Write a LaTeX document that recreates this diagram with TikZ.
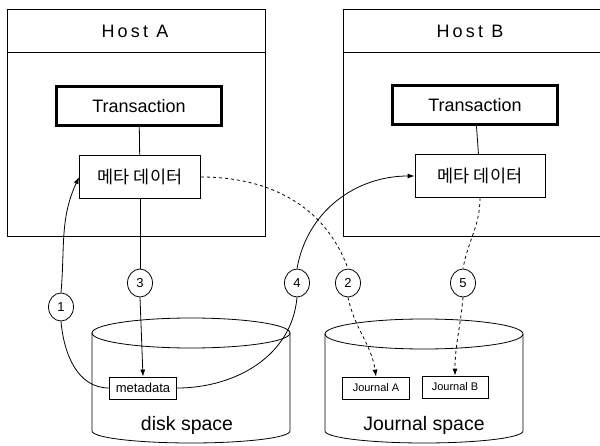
\documentclass[tikz,border=0pt]{standalone}
\usepackage{fontspec}
\setmainfont{Liberation Sans}
\newfontfamily\krfont{Noto Sans CJK KR}
\newfontfamily\hostfont[LetterSpace=18]{Liberation Sans}
\usetikzlibrary{arrows.meta,shapes.geometric}

\begin{document}
\begin{tikzpicture}[x=1pt,y=1pt,line width=0.8pt,
    >={Latex[length=7pt,width=5pt]},
    trans/.style={draw,line width=3.4pt,fill=white,minimum width=165pt,minimum height=39pt,font=\fontsize{18}{20}\selectfont},
    meta/.style={draw,fill=white,minimum height=43pt,font=\krfont\fontsize{17.5}{19}\selectfont},
    chipbox/.style={draw,fill=white,inner sep=0pt,minimum height=22pt},
    num/.style={draw,ellipse,fill=white,minimum width=25pt,minimum height=28pt,inner sep=0pt,font=\fontsize{13}{13}\selectfont},
    bigtext/.style={font=\fontsize{19.5}{22}\selectfont}]
    \useasboundingbox (0,0) rectangle (600,445);
    % hosts
    \draw (7,436) rectangle (265,209);
    \draw (7,393) -- (265,393);
    \node at (135,414) {\hostfont\fontsize{18}{20}\selectfont Host A};
    \draw (343,436) rectangle (601,209);
    \draw (343,393) -- (601,393);
    \node at (470,414) {\hostfont\fontsize{18}{20}\selectfont Host B};
    \node[trans] (transA) at (139,339) {Transaction};
    \node[trans] (transB) at (475,340) {Transaction};
    \node[meta,minimum width=121pt] (metaA) at (140,268) {메타 데이터};
    \node[meta,minimum width=130pt] (metaB) at (480,269) {메타 데이터};
    \draw (transA) -- (metaA);
    \draw (transB) -- (metaB);
    % disk space
    \draw (92,112) -- (92,14) arc[start angle=180,end angle=360,x radius=99,y radius=12] -- (290,112);
    \draw (191,112) ellipse[x radius=99,y radius=15];
    \node[bigtext] at (187,20) {disk space};
    \node[chipbox,minimum width=67pt,font=\fontsize{13}{14}\selectfont] (chip) at (143,57) {metadata};
    % journal space
    \draw (325,111) -- (325,14) arc[start angle=180,end angle=360,x radius=99,y radius=12] -- (523,111);
    \draw (424,111) ellipse[x radius=99,y radius=15];
    \node[bigtext] at (424,20) {Journal space};
    \node[chipbox,minimum width=67pt,font=\fontsize{11}{12}\selectfont] (jrnA) at (376,57) {Journal A};
    \node[chipbox,minimum width=66pt,font=\fontsize{11}{12}\selectfont] (jrnB) at (455,58) {Journal B};
    % steps
    \node[num] (c1) at (61,138) {1};
    \node[num] (c2) at (348,162) {2};
    \node[num] (c3) at (140,162) {3};
    \node[num] (c4) at (297,162) {4};
    \node[num] (c5) at (463,162) {5};
    \draw (chip.west) to[out=180,in=-85] (c1.south);
    \draw[->] (c1.north) to[out=85,in=-115] (metaA.west);
    \draw[dashed] (metaA.east) to[out=0,in=110] (c2.north);
    \draw[dashed,->] (c2.south) to[out=-78,in=98] (jrnA.north);
    \draw (metaA.south) -- (c3.north);
    \draw[->] (c3.south) -- (chip.north);
    \draw (chip.east) to[out=0,in=-95] (c4.south);
    \draw[->] (c4.north) to[out=80,in=180] (metaB.west);
    \draw[dashed] (metaB.south) to[out=-90,in=80] (c5.north);
    \draw[dashed,->] (c5.south) to[out=-95,in=90] (jrnB.north);
\end{tikzpicture}
\end{document}
